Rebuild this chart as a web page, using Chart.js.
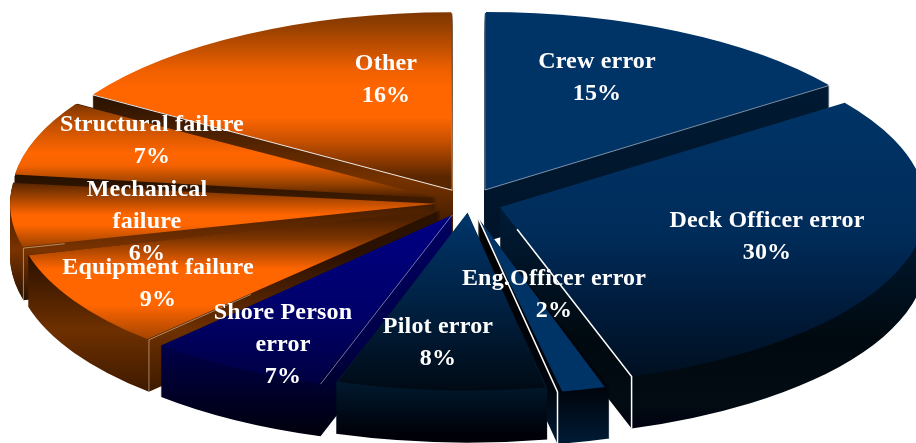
<!DOCTYPE html>
<html>
<head>
<meta charset="utf-8">
<style>
html,body{margin:0;padding:0;background:#fff;}
canvas{display:block;}
</style>
<script src="https://cdn.jsdelivr.net/npm/chart.js@4"></script>
</head>
<body>
<canvas id="c" width="916" height="443"></canvas>
<script>
const categories = [
  ['Crew error'],
  ['Deck Officer error'],
  ['Eng.Officer error'],
  ['Pilot error'],
  ['Shore Person', 'error'],
  ['Equipment failure'],
  ['Mechanical', 'failure'],
  ['Structural failure'],
  ['Other']
];
const shares = [15, 30, 2, 8, 7, 9, 6, 7, 16];

/* ---- styling only below ---- */
const explode = [58.4, 54.4, 58.4, 38.4, 55.2, 55.2, 55.2, 56.8, 58.4];
const labelCentres = [
  [597, 62], [767, 221], [554, 279], [438, 327], [283, 313],
  [158, 268], [147, 190], [152, 125], [386, 64]
];
const lineGap = 32;
const rimRadius = 178;
const stretchX = 426 / rimRadius;
const depth = 52;

const topShades = [
  [[0, '#003366'], [400, '#003366']],
  [[100, '#003366'], [230, '#002c5a'], [300, '#001c3d'], [376, '#000f1f']],
  [[200, '#003366'], [385, '#003366'], [393, '#00213f']],
  [[213, '#003366'], [290, '#002244'], [381, '#000a14']],
  [[216, '#000080'], [300, '#00006a'], [385, '#00003a']],
  [[212, '#4d2000'], [231, '#7a3300'], [262, '#ff6600'], [298, '#ff6600'], [342, '#8a3a00']],
  [[180, '#4d2000'], [192, '#8a3a00'], [214, '#ff6600'], [224, '#ff6600'], [246, '#9a4200']],
  [[103, '#6b2e00'], [130, '#c25000'], [158, '#ff6600'], [170, '#f56200'], [187, '#a04500'], [202, '#4d2000']],
  [[12, '#6b2e00'], [40, '#964000'], [82, '#ee5f00'], [100, '#ff6600'], [130, '#ff6600'], [152, '#cc5200'], [190, '#5a2600']]
];
const wallShades = [
  [[85, '#001a33'], [250, '#001428']],
  [[207, '#001c38'], [340, '#00090f'], [405, '#020c12'], [430, '#000010']],
  [[218, '#000000'], [393, '#00060e'], [440, '#001a33']],
  [[213, '#000a14'], [381, '#001a2e'], [435, '#000008']],
  [[216, '#000060'], [344, '#00004a'], [436, '#00000c']],
  [[212, '#2a1200'], [255, '#2a1000'], [330, '#6e3000'], [396, '#3a1800']],
  [[180, '#2a1200'], [250, '#7a3300'], [300, '#2a1200']],
  [[120, '#2a1200'], [182, '#2a1200'], [198, '#3d1a00'], [290, '#2a1200']],
  [[96, '#2a1200'], [180, '#763200'], [245, '#2a1200']]
];
/* highlighted seams: slice, which edge, colour, width, runs down the wall, share of the edge lit from the rim */
const seams = [
  [0, 'end', 'rgba(190,205,225,.65)', 1, false, 1],
  [1, 'end', '#ffffff', 1.5, true, 0.87],
  [2, 'end', '#ffffff', 1.5, true, 1],
  [4, 'start', 'rgba(190,190,230,.6)', 1, false, 1],
  [5, 'start', 'rgba(225,200,170,.6)', 1, true, 0.35],
  [6, 'start', 'rgba(225,200,170,.6)', 1, true, 0.1],
  [8, 'start', 'rgba(255,255,255,.9)', 1, false, 1],
  [8, 'end', 'rgba(255,230,200,.55)', 1, false, 1],
  [0, 'start', 'rgba(220,230,240,.55)', 1, false, 1]
];

function ramp(ctx, stops) {
  const g = ctx.createLinearGradient(0, stops[0][0], 0, stops[stops.length - 1][0]);
  const a = stops[0][0], b = stops[stops.length - 1][0];
  stops.forEach(s => g.addColorStop((s[0] - a) / (b - a), s[1]));
  return g;
}
/* Chart.js moves an exploded arc by a quarter of its offset option */
function apexOf(el, k) {
  const mid = (el.startAngle + el.endAngle) / 2;
  const off = (el.options.offset || 0) / 4;
  return {
    x: el.x + Math.cos(mid) * off * k,
    y: el.y + Math.sin(mid) * off,
    mid
  };
}
/* ... and grows it by that amount times (1 - sin(sweep)); undo it so all rims agree */
function radiusGrowth(el) {
  const sweep = el.endAngle - el.startAngle;
  return (el.options.offset || 0) / 4 * (1 - Math.sin(Math.min(Math.PI, sweep)));
}
function tracePie(ctx, el, k, dy) {
  const p = apexOf(el, k);
  ctx.beginPath();
  ctx.ellipse(p.x, p.y + dy, rimRadius * k, rimRadius, 0, el.startAngle, el.endAngle);
  ctx.lineTo(p.x, p.y + dy);
  ctx.closePath();
}

const pie3d = {
  id: 'pie3d',
  beforeDatasetsDraw(chart) {
    const ctx = chart.ctx;
    const arcs = chart.getDatasetMeta(0).data;
    arcs.forEach(el => { el.outerRadius = rimRadius - radiusGrowth(el); });
    const order = arcs.map((el, i) => i).sort((a, b) =>
      Math.sin(apexOf(arcs[a], 1).mid) - Math.sin(apexOf(arcs[b], 1).mid));
    ctx.save();
    order.forEach(i => {
      ctx.fillStyle = ramp(ctx, wallShades[i]);
      for (let dy = depth; dy >= 1; dy--) {
        tracePie(ctx, arcs[i], stretchX, dy);
        ctx.fill();
      }
    });
    ctx.restore();
    const cx = arcs[0].x;
    ctx.save();
    ctx.translate(cx, 0);
    ctx.scale(stretchX, 1);
    ctx.translate(-cx, 0);
  },
  afterDatasetsDraw(chart) {
    const ctx = chart.ctx;
    ctx.restore();
    const arcs = chart.getDatasetMeta(0).data;
    ctx.save();
    seams.forEach(([i, side, color, width, down, reach]) => {
      const el = arcs[i];
      const p = apexOf(el, stretchX);
      const ang = side === 'start' ? el.startAngle : el.endAngle;
      const ex = p.x + Math.cos(ang) * rimRadius * stretchX;
      const ey = p.y + Math.sin(ang) * rimRadius;
      ctx.strokeStyle = color;
      ctx.lineWidth = width;
      ctx.beginPath();
      ctx.moveTo(ex + (p.x - ex) * reach, ey + (p.y - ey) * reach);
      ctx.lineTo(ex, ey);
      if (down) ctx.lineTo(ex, ey + depth);
      ctx.stroke();
    });
    ctx.fillStyle = '#ffffff';
    ctx.font = 'bold 24px "Liberation Serif"';
    ctx.letterSpacing = '0.2px';
    ctx.textAlign = 'center';
    ctx.textBaseline = 'middle';
    categories.forEach((lines, i) => {
      const [x, y] = labelCentres[i];
      lines.concat([shares[i] + '%']).forEach((t, n) => ctx.fillText(t, x, y + n * lineGap));
    });
    ctx.restore();
  }
};

new Chart(document.getElementById('c'), {
  type: 'pie',
  data: {
    labels: categories,
    datasets: [{
      data: shares,
      clip: false,
      borderWidth: 0,
      offset: explode,
      backgroundColor: c => c.dataIndex === undefined ? '#003366' : ramp(c.chart.ctx, topShades[c.dataIndex])
    }]
  },
  options: {
    responsive: false,
    animation: false,
    radius: rimRadius,
    layout: { padding: { left: 22, right: 0, top: 0, bottom: 37 } },
    plugins: { legend: { display: false }, tooltip: { enabled: false }, title: { display: false } }
  },
  plugins: [pie3d]
});
</script>
</body>
</html>
